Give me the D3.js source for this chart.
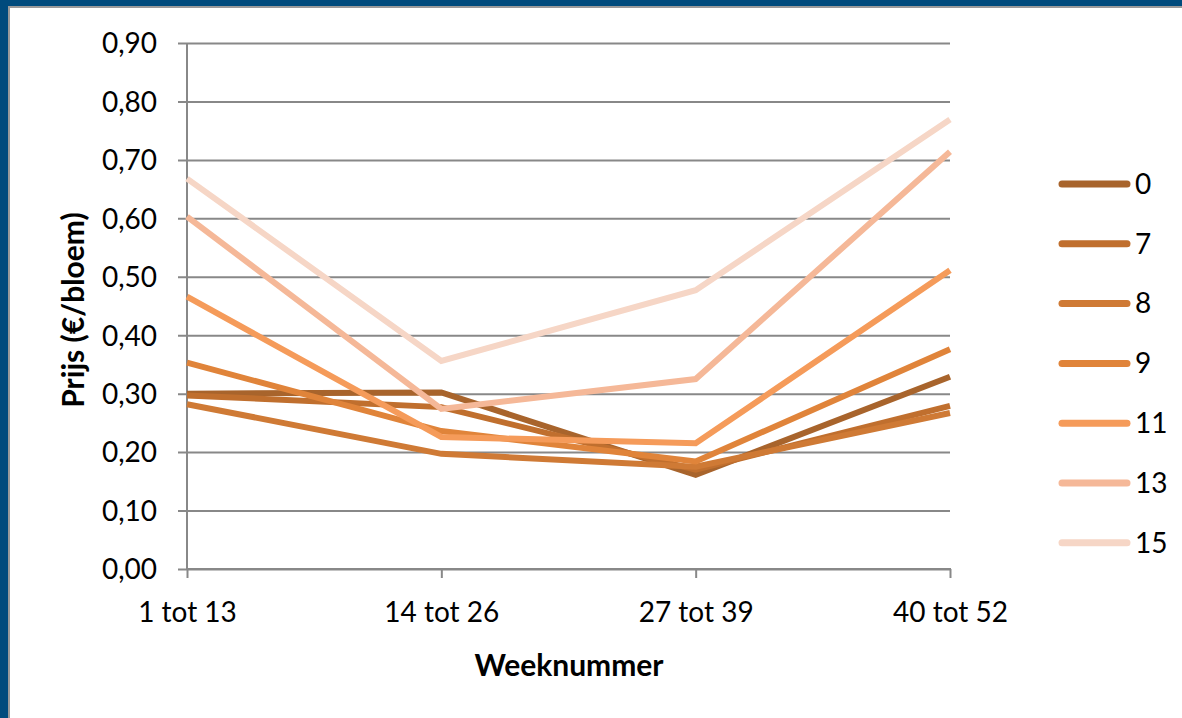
<!DOCTYPE html>
<html>
<head>
<meta charset="utf-8">
<script src="https://cdn.jsdelivr.net/npm/d3@7"></script>
<style>
  html, body { margin: 0; padding: 0; background: #fff; }
  svg { display: block; }
  text { font-family: Lato, "Open Sans", sans-serif; fill: #000; }
</style>
</head>
<body>
<svg id="chart" width="1182" height="718"></svg>
<script>
// Weekly price periods
const categories = ["1 tot 13", "14 tot 26", "27 tot 39", "40 tot 52"];

// Price per flower (€) for each series
const seriesNames = ["0", "7", "8", "9", "11", "13", "15"];
const values0  = [0.300, 0.302, 0.161, 0.329];
const values7  = [0.297, 0.277, 0.170, 0.279];
const values8  = [0.282, 0.197, 0.175, 0.267];
const values9  = [0.353, 0.236, 0.184, 0.376];
const values11 = [0.466, 0.226, 0.215, 0.511];
const values13 = [0.603, 0.274, 0.325, 0.714];
const values15 = [0.668, 0.356, 0.477, 0.769];
const seriesValues = [values0, values7, values8, values9, values11, values13, values15];
const seriesColors = ["#A8642C", "#C06F2E", "#CF7A35", "#E0843A", "#F59B5A", "#F5B898", "#F6D6C6"];

const yTicks = [0, 0.1, 0.2, 0.3, 0.4, 0.5, 0.6, 0.7, 0.8, 0.9];

const svg = d3.select("#chart");
const W = 1182, H = 718;

// Frame: dark blue band on top and left with a thin grey inner edge
svg.append("rect").attr("x", 0).attr("y", 0).attr("width", W).attr("height", 7).attr("fill", "#004B7D");
svg.append("rect").attr("x", 0).attr("y", 0).attr("width", 8).attr("height", H).attr("fill", "#004B7D");
svg.append("rect").attr("x", 8).attr("y", 6).attr("width", W - 8).attr("height", 2).attr("fill", "#9a9a9a");
svg.append("rect").attr("x", 8).attr("y", 6).attr("width", 2).attr("height", H - 6).attr("fill", "#9a9a9a");

const x = d3.scalePoint().domain(categories).range([187, 950]).padding(0);
const y = d3.scaleLinear().domain([0, 0.9]).range([569, 43]);

const fmt = v => d3.format(".2f")(v).replace(".", ",");

// Horizontal gridlines with left tick marks
const yAxis = d3.axisLeft(y).tickValues(yTicks).tickFormat(fmt)
  .tickSize(-(950 - 187)).tickPadding(30);
const gy = svg.append("g").attr("transform", "translate(187,0)").call(yAxis);
gy.select(".domain").remove();
gy.selectAll(".tick line").attr("stroke", "#888").attr("stroke-width", 2).attr("x1", -9);
gy.selectAll(".tick text").style("font-size", "28px").attr("dy", "0.35em");

// Vertical axis line
svg.append("line").attr("x1", 187).attr("x2", 187).attr("y1", y(0.9)).attr("y2", y(0))
  .attr("stroke", "#888").attr("stroke-width", 2);

// Category axis
const xAxis = d3.axisBottom(x).tickSize(9).tickPadding(24);
const gx = svg.append("g").attr("transform", `translate(0,${y(0)})`).call(xAxis);
gx.select(".domain").attr("stroke", "#888").attr("stroke-width", 2).attr("d", `M186,0H951`);
gx.selectAll(".tick line").attr("stroke", "#888").attr("stroke-width", 2);
gx.selectAll(".tick text").style("font-size", "28px");

// Axis titles
svg.append("text").attr("x", 569).attr("y", 676).attr("text-anchor", "middle")
  .style("font-size", "30px").style("font-weight", "bold").text("Weeknummer");
svg.append("text").attr("transform", "translate(84,310) rotate(-90)").attr("text-anchor", "middle")
  .style("font-size", "30px").style("font-weight", "bold").text("Prijs (€/bloem)");

// Series lines
const line = d3.line().x((d, i) => x(categories[i])).y(d => y(d));
seriesValues.forEach((vals, k) => {
  svg.append("path").datum(vals).attr("d", line).attr("fill", "none")
    .attr("stroke", seriesColors[k]).attr("stroke-width", 6).attr("stroke-linejoin", "miter");
});

// Legend
const legend = svg.append("g");
seriesNames.forEach((name, k) => {
  const ly = 184 + k * 59.8;
  legend.append("line").attr("x1", 1062).attr("x2", 1127).attr("y1", ly).attr("y2", ly)
    .attr("stroke", seriesColors[k]).attr("stroke-width", 7).attr("stroke-linecap", "round");
  legend.append("text").attr("x", 1135).attr("y", ly).attr("dy", "0.35em")
    .style("font-size", "28px").text(name);
});
</script>
</body>
</html>
